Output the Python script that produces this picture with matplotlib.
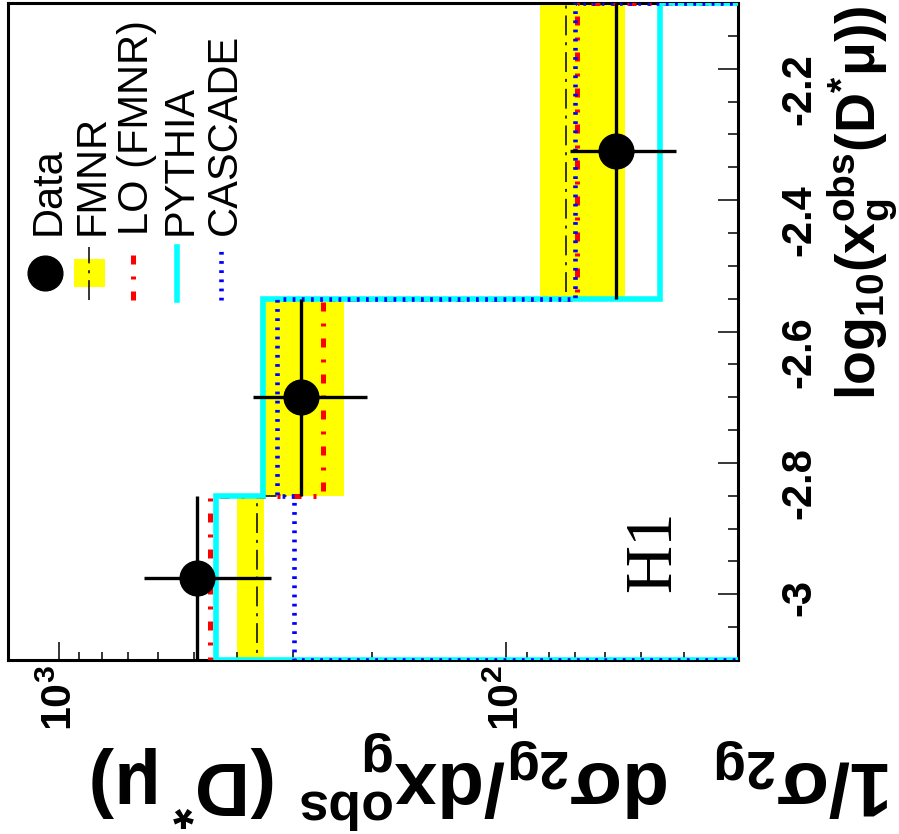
import numpy as np
import matplotlib
matplotlib.use("Agg")
import matplotlib.pyplot as plt
import matplotlib.transforms as mtransforms
from matplotlib.patches import Rectangle
from matplotlib.ticker import FixedLocator, FixedFormatter, LogLocator, NullFormatter

plt.rcParams['font.family'] = ['Liberation Sans', 'DejaVu Sans']
plt.rcParams['axes.unicode_minus'] = False
plt.rcParams['mathtext.fontset'] = 'custom'
plt.rcParams['mathtext.rm'] = 'Liberation Sans'
plt.rcParams['mathtext.it'] = 'Liberation Sans:italic'
plt.rcParams['mathtext.bf'] = 'Liberation Sans:bold'

# log10(x_g^obs) bins and normalised cross sections per bin
bin_edges = [-3.1, -2.85, -2.55, -2.1]
data_val = [491, 287, 56.8]
data_err = [155, 82, 15]
fmnr_val = [360, 288, 73.3]
fmnr_low = [348, 230, 54.2]
fmnr_high = [400, 356, 84.2]
lo_fmnr_val = [459, 257, 69.5]
pythia_val = [446, 349, 45.3]
cascade_val = [298, 325, 70]

xg_ticks = [-3.0, -2.8, -2.6, -2.4, -2.2]
xg_tick_labels = ['-3', '-2.8', '-2.6', '-2.4', '-2.2']
sigma_ticks = [100, 1000]
sigma_tick_labels = [r'$\mathbf{10^{2}}$', r'$\mathbf{10^{3}}$']

legend_labels = ['Data', 'FMNR', 'LO (FMNR)', 'PYTHIA', 'CASCADE']

W, H = 899, 834
fig = plt.figure(figsize=(W / 100, H / 100), dpi=100)
# the plot is drawn turned by 90 degrees: cross section runs horizontally,
# log10(x_g) vertically
ax = fig.add_axes([8 / W, (H - 660) / H, (738 - 8) / W, (660 - 3) / H])


def ax_x(px):
    return (px - 8) / 730.0


def ax_y(py):
    return (660 - py) / 657.0


edges = np.array(bin_edges)
centers = 0.5 * (edges[1:] + edges[:-1])
half_width = 0.5 * np.diff(edges)

# FMNR uncertainty band and central value
ax.stairs(fmnr_high, edges, baseline=fmnr_low, fill=True, orientation='horizontal',
          color='#ffff00', lw=0, zorder=1)
ax.stairs(fmnr_val, edges, baseline=1, orientation='horizontal', color='black',
          lw=1.1, linestyle=(0, (13, 4.5, 2, 4.5)), zorder=2)

# model predictions
ax.stairs(lo_fmnr_val, edges, baseline=1, orientation='horizontal', color='#ff0000',
          lw=3.6, linestyle=(0, (1.8, 2.4, 0.6, 2.4)), zorder=3)
ax.stairs(pythia_val, edges, baseline=1, orientation='horizontal', color='#00ffff',
          lw=4.0, zorder=4)
ax.stairs(cascade_val, edges, baseline=1, orientation='horizontal', color='#0000ff',
          lw=3.3, linestyle=(0, (0.6, 1.4)), zorder=5)

# data points
ax.errorbar(data_val, centers, xerr=data_err, yerr=half_width, fmt='o', color='black',
            markersize=25, elinewidth=2.4, capsize=0, zorder=6)

ax.set_xscale('log')
ax.set_xlim(1300, 30.3)
ax.set_ylim(-3.1, -2.1)

ax.xaxis.set_major_locator(FixedLocator(sigma_ticks))
ax.xaxis.set_major_formatter(NullFormatter())
ax.xaxis.set_minor_locator(LogLocator(base=10, subs=np.arange(2, 10)))
ax.xaxis.set_minor_formatter(NullFormatter())
ax.yaxis.set_major_locator(FixedLocator(xg_ticks))
ax.yaxis.set_major_formatter(FixedFormatter(xg_tick_labels))
ax.yaxis.set_minor_locator(FixedLocator(np.arange(-3.1, -2.09, 0.05)))
ax.yaxis.tick_right()

ax.tick_params(axis='x', which='both', direction='in', bottom=True, top=False,
               width=1.1)
ax.tick_params(axis='x', which='major', length=13)
ax.tick_params(axis='x', which='minor', length=6)
ax.tick_params(axis='y', which='both', direction='in', right=True, left=False,
               labelrotation=90, labelsize=30, pad=30, width=1.1)
ax.tick_params(axis='y', which='major', length=14.5)
ax.tick_params(axis='y', which='minor', length=7)
for lab in ax.get_yticklabels():
    lab.set_fontweight('bold')

# cross-section tick labels, turned with the plot ("10" centred on its tick)
label_trans = mtransforms.blended_transform_factory(ax.transData, ax.transAxes) + \
    mtransforms.ScaledTranslation(13 / 100, 0, fig.dpi_scale_trans)
for val, lab in zip(sigma_ticks, sigma_tick_labels):
    ax.text(val, ax_y(665), lab, transform=label_trans, fontsize=31, rotation=90,
            rotation_mode='anchor', ha='right', va='baseline')

for sp in ax.spines.values():
    sp.set_linewidth(2.2)

# axis titles
fig.text(875 / W, (H - 400) / H, r'$\mathbf{log_{10}(x_{g}^{obs}(D^{*}\mu))}$',
         rotation=90, rotation_mode='anchor', ha='left', va='baseline', fontsize=40)
fig.text(893 / W, (H - 762) / H,
         r'$\mathbf{1/\sigma_{2g}\ \ d\sigma_{2g}/dx_{g}^{obs}\ (D^{*}\,\mu)}$',
         rotation=180, rotation_mode='anchor', ha='left', va='baseline', fontsize=55)

ax.text(ax_x(670), ax_y(592), 'H1', family='Liberation Serif', fontsize=48,
        rotation=90, rotation_mode='anchor', ha='left', va='baseline',
        transform=ax.transAxes)

# legend, drawn turned like the rest of the plot
sym_top, sym_bot = ax_y(247), ax_y(300)
for i, label in enumerate(legend_labels):
    base = 60 + 44 * i
    ax.text(ax_x(base), ax_y(235), label, fontsize=30, rotation=90,
            rotation_mode='anchor', ha='left', va='baseline', transform=ax.transAxes)
    xs = ax_x(base - 15)
    if label == 'Data':
        ax.plot([xs], [ax_y(273)], 'o', color='black', markersize=25,
                transform=ax.transAxes, clip_on=False)
    elif label == 'FMNR':
        ax.add_patch(Rectangle((ax_x(74), ax_y(287)), ax_x(105) - ax_x(74),
                               ax_y(259) - ax_y(287), color='#ffff00',
                               transform=ax.transAxes, lw=0))
        ax.plot([xs, xs], [sym_bot, sym_top], color='black', lw=1.1,
                linestyle=(0, (13, 4.5, 2, 4.5)), transform=ax.transAxes)
    elif label == 'LO (FMNR)':
        ax.plot([xs, xs], [sym_bot, sym_top], color='#ff0000', lw=3.6,
                linestyle=(0, (1.8, 2.4, 0.6, 2.4)), transform=ax.transAxes)
    elif label == 'PYTHIA':
        ax.plot([xs, xs], [sym_bot, sym_top], color='#00ffff', lw=4.0,
                transform=ax.transAxes)
    else:
        ax.plot([xs, xs], [sym_bot, sym_top], color='#0000ff', lw=3.3,
                linestyle=(0, (0.6, 1.4)), transform=ax.transAxes)

fig.savefig('out.png', dpi=100)
